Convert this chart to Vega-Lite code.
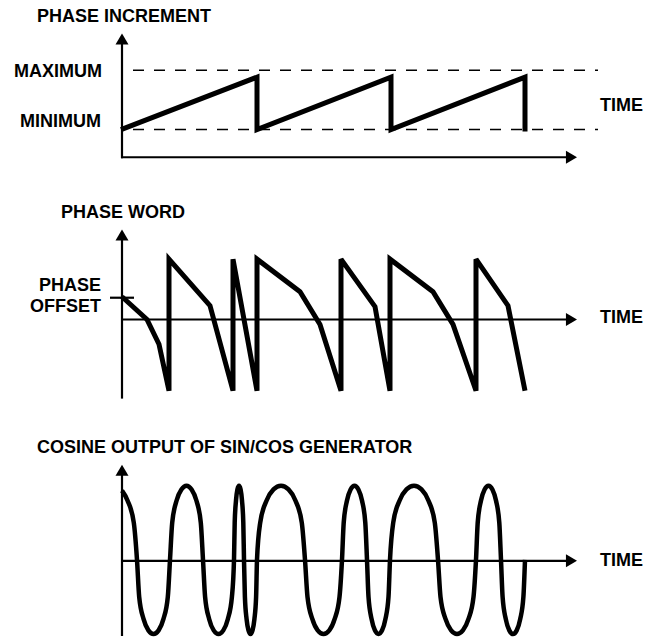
{
  "$schema": "https://vega.github.io/schema/vega-lite/v6.json",
  "width": 657,
  "height": 643,
  "autosize": {"type": "fit", "contains": "padding"},
  "padding": 0,
  "background": "white",
  "config": {"view": {"stroke": null}},
  "datasets": {
    "saw": [
      {"i": 0, "t": 121, "v": 131}, {"i": 1, "t": 257, "v": 78}, {"i": 2, "t": 257, "v": 131},
      {"i": 3, "t": 391, "v": 78}, {"i": 4, "t": 391, "v": 131}, {"i": 5, "t": 525, "v": 78},
      {"i": 6, "t": 525, "v": 133}
    ],
    "phase": [
      {"i": 0, "t": 122, "v": 300}, {"i": 1, "t": 147, "v": 323}, {"i": 2, "t": 159, "v": 348},
      {"i": 3, "t": 169, "v": 395}, {"i": 4, "t": 169, "v": 262}, {"i": 5, "t": 210, "v": 309},
      {"i": 6, "t": 233, "v": 395}, {"i": 7, "t": 233, "v": 262}, {"i": 8, "t": 257, "v": 395},
      {"i": 9, "t": 257, "v": 262}, {"i": 10, "t": 300, "v": 295}, {"i": 11, "t": 320, "v": 328},
      {"i": 12, "t": 341, "v": 395}, {"i": 13, "t": 341, "v": 262}, {"i": 14, "t": 375, "v": 310},
      {"i": 15, "t": 390, "v": 395}, {"i": 16, "t": 390, "v": 262}, {"i": 17, "t": 433, "v": 295},
      {"i": 18, "t": 453, "v": 328}, {"i": 19, "t": 476, "v": 395}, {"i": 20, "t": 476, "v": 262},
      {"i": 21, "t": 508, "v": 309}, {"i": 22, "t": 525, "v": 395}
    ],
    "cos": [
      {"t": 122, "v": 496}, {"t": 127.5, "v": 506}, {"t": 133.8, "v": 528.5}, {"t": 137, "v": 566},
      {"t": 139.2, "v": 603.5}, {"t": 143.6, "v": 626}, {"t": 148.4, "v": 637.3}, {"t": 153.5, "v": 641},
      {"t": 158.6, "v": 637.3}, {"t": 163.4, "v": 626}, {"t": 167.8, "v": 603.5}, {"t": 170, "v": 566},
      {"t": 172.2, "v": 528.5}, {"t": 176.6, "v": 506}, {"t": 181.4, "v": 494.8}, {"t": 186.5, "v": 491},
      {"t": 191.6, "v": 494.8}, {"t": 196.4, "v": 506}, {"t": 200.8, "v": 528.5}, {"t": 203, "v": 566},
      {"t": 205.1, "v": 603.5}, {"t": 209.2, "v": 626}, {"t": 213.7, "v": 637.3}, {"t": 218.5, "v": 641},
      {"t": 223.3, "v": 637.3}, {"t": 227.8, "v": 626}, {"t": 231.9, "v": 603.5}, {"t": 234, "v": 566},
      {"t": 234.7, "v": 528.5}, {"t": 236, "v": 506}, {"t": 237.4, "v": 494.8}, {"t": 239, "v": 491},
      {"t": 240.6, "v": 494.8}, {"t": 242, "v": 506}, {"t": 243.3, "v": 528.5}, {"t": 244, "v": 566},
      {"t": 244.9, "v": 603.5}, {"t": 246.6, "v": 626}, {"t": 248.5, "v": 637.3}, {"t": 250.5, "v": 641},
      {"t": 252.5, "v": 637.3}, {"t": 254.4, "v": 626}, {"t": 256.1, "v": 603.5}, {"t": 257, "v": 566},
      {"t": 260.2, "v": 528.5}, {"t": 266.6, "v": 506}, {"t": 273.5, "v": 494.8}, {"t": 281, "v": 491},
      {"t": 288.5, "v": 494.8}, {"t": 295.4, "v": 506}, {"t": 301.8, "v": 528.5}, {"t": 305, "v": 566},
      {"t": 307.5, "v": 603.5}, {"t": 312.4, "v": 626}, {"t": 317.7, "v": 637.3}, {"t": 323.5, "v": 641},
      {"t": 329.3, "v": 637.3}, {"t": 334.6, "v": 626}, {"t": 339.5, "v": 603.5}, {"t": 342, "v": 566},
      {"t": 343.7, "v": 528.5}, {"t": 347, "v": 506}, {"t": 350.6, "v": 494.8}, {"t": 354.5, "v": 491},
      {"t": 358.4, "v": 494.8}, {"t": 362, "v": 506}, {"t": 365.3, "v": 528.5}, {"t": 367, "v": 566},
      {"t": 368.5, "v": 603.5}, {"t": 371.6, "v": 626}, {"t": 374.9, "v": 637.3}, {"t": 378.5, "v": 641},
      {"t": 382.1, "v": 637.3}, {"t": 385.4, "v": 626}, {"t": 388.5, "v": 603.5}, {"t": 390, "v": 566},
      {"t": 393.2, "v": 528.5}, {"t": 399.6, "v": 506}, {"t": 406.5, "v": 494.8}, {"t": 414, "v": 491},
      {"t": 421.5, "v": 494.8}, {"t": 428.4, "v": 506}, {"t": 434.8, "v": 528.5}, {"t": 438, "v": 566},
      {"t": 440.5, "v": 603.5}, {"t": 445.6, "v": 626}, {"t": 451.1, "v": 637.3}, {"t": 457, "v": 641},
      {"t": 462.9, "v": 637.3}, {"t": 468.4, "v": 626}, {"t": 473.5, "v": 603.5}, {"t": 476, "v": 566},
      {"t": 477.7, "v": 528.5}, {"t": 481, "v": 506}, {"t": 484.6, "v": 494.8}, {"t": 488.5, "v": 491},
      {"t": 492.4, "v": 494.8}, {"t": 496, "v": 506}, {"t": 499.3, "v": 528.5}, {"t": 501, "v": 566},
      {"t": 502.6, "v": 603.5}, {"t": 505.8, "v": 626}, {"t": 509.3, "v": 637.3}, {"t": 513, "v": 641},
      {"t": 516.7, "v": 637.3}, {"t": 520.2, "v": 626}, {"t": 523.4, "v": 603.5}, {"t": 525, "v": 566}
    ],
    "axes": [
      {"t": 122, "v": 44, "t2": 122, "v2": 160},
      {"t": 121, "v": 159, "t2": 567, "v2": 159},
      {"t": 122, "v": 242, "t2": 122, "v2": 403},
      {"t": 122, "v": 323, "t2": 567, "v2": 323},
      {"t": 122, "v": 480, "t2": 122, "v2": 643},
      {"t": 122, "v": 567, "t2": 567, "v2": 567},
      {"t": 110, "v": 301, "t2": 134, "v2": 301}
    ],
    "dashes": [
      {"t": 133, "v": 71, "t2": 598, "v2": 71},
      {"t": 133, "v": 131, "t2": 598, "v2": 131}
    ],
    "arrows": [
      {"t": 122, "v": 40.5, "dir": "up"},
      {"t": 122, "v": 238.5, "dir": "up"},
      {"t": 122, "v": 476.5, "dir": "up"},
      {"t": 570.5, "v": 159, "dir": "right"},
      {"t": 570.5, "v": 323, "dir": "right"},
      {"t": 570.5, "v": 567, "dir": "right"}
    ],
    "labelsL": [
      {"t": 37, "v": 17, "text": "PHASE INCREMENT"},
      {"t": 600, "v": 107, "text": "TIME"},
      {"t": 61, "v": 215, "text": "PHASE WORD"},
      {"t": 600, "v": 322, "text": "TIME"},
      {"t": 37, "v": 453, "text": "COSINE OUTPUT OF SIN/COS GENERATOR"},
      {"t": 600, "v": 567, "text": "TIME"}
    ],
    "labelsR": [
      {"t": 102, "v": 73, "text": "MAXIMUM"},
      {"t": 101, "v": 123, "text": "MINIMUM"},
      {"t": 101, "v": 289, "text": "PHASE"},
      {"t": 101, "v": 310, "text": "OFFSET"}
    ]
  },
  "encoding": {
    "x": {"field": "t", "type": "quantitative", "scale": {"domain": [0, 657], "nice": false, "zero": false}, "axis": null},
    "y": {"field": "v", "type": "quantitative", "scale": {"domain": [0, 643], "nice": false, "zero": false, "reverse": true}, "axis": null}
  },
  "layer": [
    {
      "data": {"name": "dashes"},
      "mark": {"type": "rule", "color": "black", "strokeWidth": 1.4, "strokeDash": [11, 10]},
      "encoding": {"x2": {"field": "t2"}, "y2": {"field": "v2"}}
    },
    {
      "data": {"name": "axes"},
      "mark": {"type": "rule", "color": "black", "strokeWidth": 2.2},
      "encoding": {"x2": {"field": "t2"}, "y2": {"field": "v2"}}
    },
    {
      "data": {"name": "arrows"},
      "mark": {"type": "point", "filled": true, "color": "black", "opacity": 1, "size": 169, "strokeWidth": 0},
      "encoding": {
        "shape": {"field": "dir", "type": "nominal", "legend": null,
          "scale": {"domain": ["up", "right"], "range": ["M0,-1L1,0.7L-1,0.7Z", "M1,0L-0.7,-1L-0.7,1Z"]}}
      }
    },
    {
      "data": {"name": "saw"},
      "mark": {"type": "line", "color": "black", "strokeWidth": 5, "strokeJoin": "miter", "strokeMiterLimit": 3, "strokeCap": "butt"},
      "encoding": {"order": {"field": "i", "type": "quantitative"}}
    },
    {
      "data": {"name": "phase"},
      "mark": {"type": "line", "color": "black", "strokeWidth": 5, "strokeJoin": "miter", "strokeMiterLimit": 3, "strokeCap": "butt"},
      "encoding": {"order": {"field": "i", "type": "quantitative"}}
    },
    {
      "data": {"name": "cos"},
      "mark": {"type": "line", "color": "black", "strokeWidth": 4.5, "interpolate": "monotone"},
      "encoding": {}
    },
    {
      "data": {"name": "labelsL"},
      "mark": {"type": "text", "align": "left", "baseline": "middle", "font": "Liberation Sans", "fontWeight": "bold", "fontSize": 18, "color": "black"},
      "encoding": {"text": {"field": "text"}}
    },
    {
      "data": {"name": "labelsR"},
      "mark": {"type": "text", "align": "right", "baseline": "middle", "font": "Liberation Sans", "fontWeight": "bold", "fontSize": 18, "color": "black"},
      "encoding": {"text": {"field": "text"}}
    }
  ]
}
